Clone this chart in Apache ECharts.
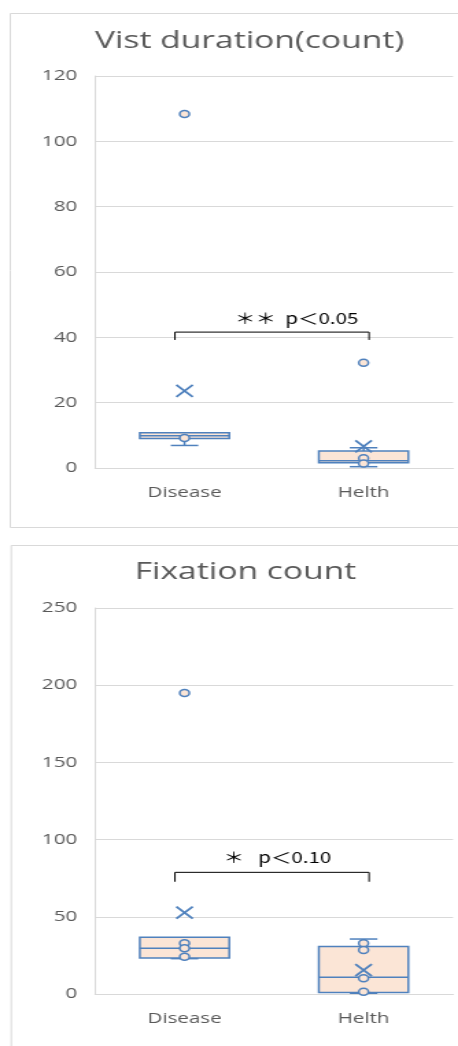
<!DOCTYPE html>
<html><head><meta charset="utf-8">
<script src="https://cdn.jsdelivr.net/npm/echarts@6/dist/echarts.min.js"></script>
<style>
html,body{margin:0;padding:0;background:#fff;overflow:hidden;}
#wrap{width:458px;height:1046px;overflow:hidden;}
#c{width:334px;height:1046px;transform:scaleX(1.3713);transform-origin:0 0;}
</style>
</head><body><div id="wrap"><div id="c"></div></div>
<script>
const categories = ['Disease', 'Helth'];
// Chart 1: Vist duration(count)  [min, Q1, median, Q3, max]
const visitBox = [[6.9, 9.0, 9.9, 10.8, 10.8], [0.4, 1.6, 2.2, 5.2, 6.2]];
const visitMean = [23.6, 6.6];
const visitPoints = [[0, 9.2], [1, 3.0], [1, 1.4]];
const visitOutliers = [[0, 108.4], [1, 32.2]];
const visitBracket = [[0, 1, 41.6, 39.2]];
const visitSig = '＊＊  p＜0.05';
// Chart 2: Fixation count
const fixBox = [[22.9, 23.3, 29.6, 36.7, 36.7], [0.5, 1.0, 10.8, 30.7, 35.6]];
const fixMean = [52.7, 15.5];
const fixPoints = [[0, 32.8], [0, 29.6], [0, 24.2], [1, 32.8], [1, 28.5], [1, 10.2], [1, 1.5]];
const fixOutliers = [[0, 195]];
const fixBracket = [[0, 1, 78.8, 72.7]];
const fixSig = '＊   p＜0.10';

const FONT = 'Open Sans';
const BLUE = '#4f81bd';
const FILL = '#fbe5d6';
const GRIDC = '#d9d9d9';
const TXT = '#595959';

function boxRender(params, api) {
  const x = api.value(0);
  const mn = api.value(1), q1 = api.value(2), md = api.value(3), q3 = api.value(4), mx = api.value(5);
  const band = api.size([1, 0])[0];
  const cx = api.coord([x, md])[0];
  const half = band * 0.25, cap = band * 0.077;
  const y = v => api.coord([x, v])[1];
  const ln = { stroke: BLUE, lineWidth: 1.5 };
  const ch = [];
  if (mx > q3) {
    ch.push({ type: 'line', shape: { x1: cx, y1: y(q3), x2: cx, y2: y(mx) }, style: ln });
    ch.push({ type: 'line', shape: { x1: cx - cap, y1: y(mx), x2: cx + cap, y2: y(mx) }, style: ln });
  }
  if (mn < q1) {
    ch.push({ type: 'line', shape: { x1: cx, y1: y(q1), x2: cx, y2: y(mn) }, style: ln });
    ch.push({ type: 'line', shape: { x1: cx - cap, y1: y(mn), x2: cx + cap, y2: y(mn) }, style: ln });
  }
  ch.push({ type: 'rect', shape: { x: cx - half, y: y(q3), width: half * 2, height: y(q1) - y(q3) },
    style: { fill: FILL, stroke: BLUE, lineWidth: 1.5 } });
  ch.push({ type: 'line', shape: { x1: cx - half, y1: y(md), x2: cx + half, y2: y(md) }, style: ln });
  return { type: 'group', children: ch };
}

function bracketRender(textStr, textDx, textDy) {
  return function (params, api) {
    const a = api.coord([api.value(0), api.value(2)]);
    const b = api.coord([api.value(1), api.value(2)]);
    const aB = api.coord([api.value(0), api.value(3)]);
    const x0 = a[0] - 7, x1 = b[0] + 4;
    return {
      type: 'group',
      children: [
        { type: 'polyline', shape: { points: [[x0, aB[1]], [x0, a[1]], [x1, a[1]], [x1, aB[1]]] },
          style: { stroke: '#000', lineWidth: 1, fill: null } },
        { type: 'text', style: { text: textStr, x: (x0 + x1) / 2 + textDx, y: a[1] + textDy,
          textAlign: 'center', textVerticalAlign: 'middle', fill: '#000',
          font: '15px "Noto Sans CJK JP"' } }
      ]
    };
  };
}

const xMark = 'path://M0,0L10,10M10,0L0,10';

function makeSeries(idx, box, mean, pts, outs, br, sig, dx, dy) {
  return [
    { type: 'custom', xAxisIndex: idx, yAxisIndex: idx, data: box.map((b, i) => [i].concat(b)),
      encode: { x: 0, y: [1, 2, 3, 4, 5] }, renderItem: boxRender, z: 2, silent: true },
    { type: 'scatter', xAxisIndex: idx, yAxisIndex: idx, data: pts, symbol: 'circle', symbolSize: 7,
      itemStyle: { color: FILL, borderColor: BLUE, borderWidth: 1.5, opacity: 1 }, z: 3 },
    { type: 'scatter', xAxisIndex: idx, yAxisIndex: idx, data: outs, symbol: 'circle', symbolSize: 7,
      itemStyle: { color: FILL, borderColor: BLUE, borderWidth: 1.5, opacity: 1 }, z: 3 },
    { type: 'scatter', xAxisIndex: idx, yAxisIndex: idx, data: mean, symbol: xMark, symbolSize: [12, 12],
      itemStyle: { color: 'transparent', borderColor: BLUE, borderWidth: 1.8, opacity: 1 }, z: 4 },
    { type: 'custom', xAxisIndex: idx, yAxisIndex: idx, data: br, renderItem: bracketRender(sig, dx, dy), z: 5 }
  ];
}

const chart = echarts.init(document.getElementById('c'), null, { renderer: 'canvas' });
const axisX = (idx) => ({
  type: 'category', gridIndex: idx, data: categories,
  axisLine: { lineStyle: { color: GRIDC, width: 1 } }, axisTick: { show: false },
  axisLabel: { color: TXT, fontSize: 15, fontFamily: FONT, margin: 17 }
});
const axisY = (idx, max, interval) => ({
  type: 'value', gridIndex: idx, min: 0, max: max, interval: interval,
  axisLine: { show: true, lineStyle: { color: GRIDC } }, axisTick: { show: false },
  splitLine: { lineStyle: { color: GRIDC, width: 1 } },
  axisLabel: { color: TXT, fontSize: 15, fontFamily: FONT, margin: 13 }
});

chart.setOption({
  animation: false,
  title: [
    { text: 'Vist duration(count)', left: 177, top: 24, textAlign: 'center',
      textStyle: { color: TXT, fontSize: 24.5, fontWeight: 'normal', fontFamily: FONT } },
    { text: 'Fixation count', left: 174, top: 555, textAlign: 'center',
      textStyle: { color: TXT, fontSize: 24.5, fontWeight: 'normal', fontFamily: FONT } }
  ],
  graphic: [
    { type: 'rect', shape: { x: 7.5, y: 13.5, width: 400, height: 514 }, style: { fill: null, stroke: GRIDC, lineWidth: 1 }, silent: true },
    { type: 'rect', shape: { x: 8.2, y: 545.5, width: 400, height: 520 }, style: { fill: null, stroke: GRIDC, lineWidth: 1 }, silent: true }
  ],
  grid: [
    { left: 69.3, top: 76, right: 3.6, height: 392 },
    { left: 69.3, top: 608, right: 3.6, height: 386 }
  ],
  xAxis: [axisX(0), axisX(1)],
  yAxis: [axisY(0, 120, 20), axisY(1, 250, 50)],
  series: [].concat(
    makeSeries(0, visitBox, visitMean, visitPoints, visitOutliers, visitBracket, visitSig, 18, -14),
    makeSeries(1, fixBox, fixMean, fixPoints, fixOutliers, fixBracket, fixSig, 4, -15)
  )
});
</script></body></html>
